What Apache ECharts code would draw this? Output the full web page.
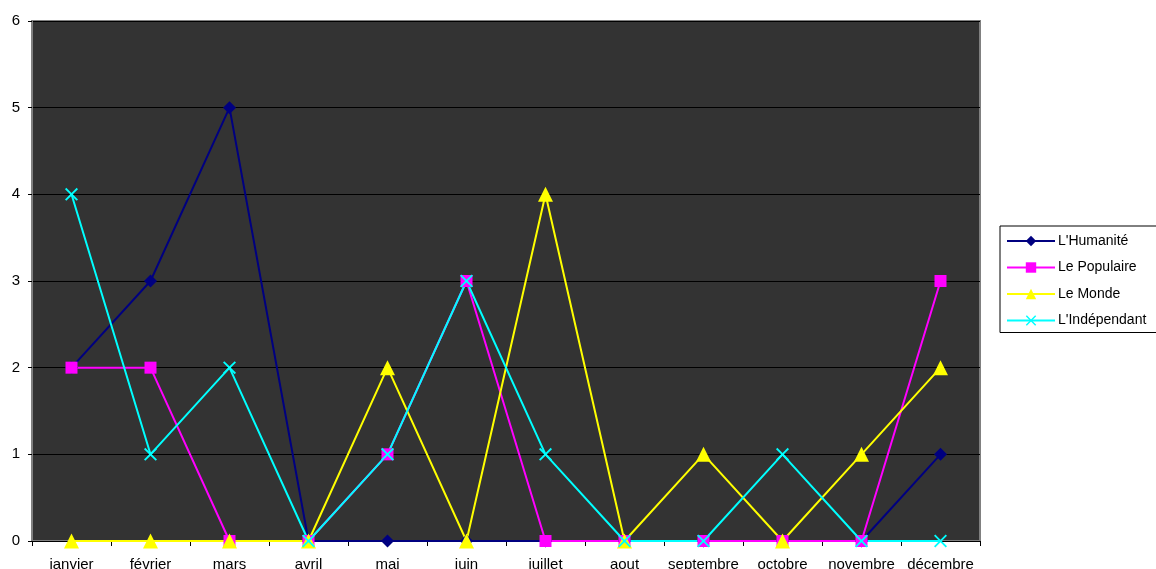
<!DOCTYPE html>
<html>
<head>
<meta charset="utf-8">
<script src="https://cdn.jsdelivr.net/npm/echarts@6/dist/echarts.min.js"></script>
<style>
  html, body { margin: 0; padding: 0; background: #fff; }
  #main { width: 1156px; height: 569px; }
</style>
</head>
<body>
<div id="main"></div>
<script>
const months = ['janvier', 'février', 'mars', 'avril', 'mai', 'juin', 'juillet', 'aout', 'septembre', 'octobre', 'novembre', 'décembre']
const humanite = [2, 3, 5, 0, 0, 0, 0, 0, 0, 0, 0, 1]
const populaire = [2, 2, 0, 0, 1, 3, 0, 0, 0, 0, 0, 3]
const monde = [0, 0, 0, 0, 2, 0, 4, 0, 1, 0, 1, 2]
const independant = [4, 1, 2, 0, 1, 3, 1, 0, 0, 1, 0, 0]

const crossPath = 'path://M0,1L1,0L5,4L9,0L10,1L6,5L10,9L9,10L5,6L1,10L0,9L4,5Z'

function makeSeries (name, data, color, symbol, size) {
  return {
    name: name,
    type: 'line',
    data: data,
    symbol: symbol,
    symbolSize: size,
    showAllSymbol: true,
    animation: false,
    lineStyle: { color: color, width: 2 },
    itemStyle: { color: color }
  }
}

const chart = echarts.init(document.getElementById('main'))
chart.setOption({
  textStyle: { fontFamily: 'Liberation Sans, Arial, sans-serif' },
  grid: {
    left: 32,
    right: 176,
    top: 21,
    bottom: 28,
    outerBoundsMode: 'none',
    show: true,
    backgroundColor: '#333333',
    borderColor: '#808080',
    borderWidth: 2
  },
  legend: {
    orient: 'vertical',
    left: 1000,
    top: 226,
    itemWidth: 48,
    itemHeight: 13,
    itemGap: 12.5,
    padding: [8, 20, 5, 6],
    borderColor: '#000',
    borderWidth: 1,
    backgroundColor: '#fff',
    textStyle: { fontSize: 14, color: '#000', padding: [0, 0, 0, -2] },
    data: ["L'Humanité", 'Le Populaire', 'Le Monde', "L'Indépendant"]
  },
  xAxis: {
    type: 'category',
    data: months,
    boundaryGap: true,
    axisLine: { lineStyle: { color: '#000', width: 1 } },
    axisTick: { show: true, length: 5, inside: false, lineStyle: { color: '#000' } },
    axisLabel: { color: '#000', fontSize: 15, margin: 16, interval: 0 }
  },
  yAxis: {
    type: 'value',
    min: 0,
    max: 6,
    interval: 1,
    axisLine: { show: true, lineStyle: { color: '#808080', width: 2 } },
    axisTick: { show: true, length: 4, lineStyle: { color: '#000' } },
    axisLabel: { color: '#000', fontSize: 15, margin: 12 },
    splitLine: { show: true, lineStyle: { color: '#000', width: 1 } }
  },
  series: [
    makeSeries("L'Humanité", humanite, '#000080', 'diamond', 13),
    makeSeries('Le Populaire', populaire, '#ff00ff', 'rect', 12),
    makeSeries('Le Monde', monde, '#ffff00', 'triangle', 15),
    makeSeries("L'Indépendant", independant, '#00ffff', crossPath, 13)
  ]
})
</script>
</body>
</html>
